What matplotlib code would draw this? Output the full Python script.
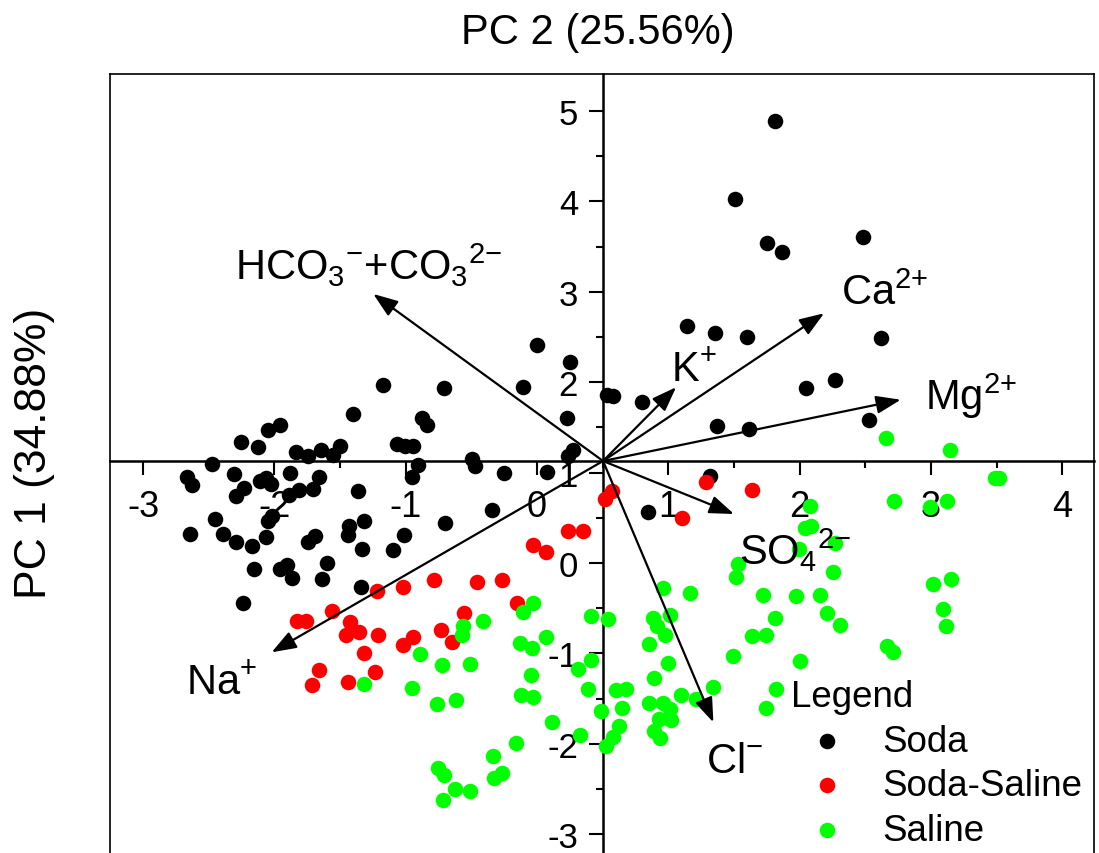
import matplotlib
matplotlib.use("Agg")
import matplotlib.pyplot as plt
import numpy as np

plt.rcParams['font.family'] = ['Liberation Sans', 'DejaVu Sans']
plt.rcParams['mathtext.fontset'] = 'custom'
plt.rcParams['mathtext.rm'] = 'Liberation Sans'
plt.rcParams['mathtext.it'] = 'Liberation Sans:italic'
plt.rcParams['mathtext.bf'] = 'Liberation Sans:bold'
plt.rcParams['axes.unicode_minus'] = False

# ---------------- data (scores) ----------------
soda_x = [1.813, 1.508, 1.749, 1.864, 2.485, 1.145, 1.356, 1.602, 2.620, 2.049,
          2.270, 0.533, 0.579, 0.802, 1.373, 1.617, 2.531, -0.002, 0.251, -0.706,
          -0.104, 0.226, -0.878, -0.835, -1.069, -1.005, -0.947, -0.497, -0.472, -0.904,
          -0.954, -0.251, 0.074, 0.238, 0.276, -0.345, -1.175, -1.399, -1.957, -2.046,
          -2.254, -2.123, -1.838, -1.742, -1.645, -1.554, -1.500, -2.478, -2.668, -2.630,
          -2.305, -1.881, -1.660, -2.110, -2.064, -2.026, -2.229, -2.292, -1.810, -1.889,
          -1.708, -1.366, -0.701, -2.452, -2.021, -2.046, -2.643, -2.394, -2.295, -2.168,
          -2.064, -1.742, -1.691, -1.432, -1.442, -1.318, -1.331, -1.099, -1.013, -2.153,
          -1.957, -1.906, -1.868, -1.597, -1.635, -1.340, -2.237, 1.318, 0.848]
soda_y = [4.893, 4.027, 3.540, 3.437, 3.603, 2.618, 2.544, 2.497, 2.486, 1.933,
          2.024, 1.858, 1.847, 1.778, 1.512, 1.482, 1.585, 2.412, 2.220, 1.933,
          1.950, 1.601, 1.604, 1.527, 1.316, 1.298, 1.291, 1.150, 1.076, 1.087,
          0.948, 0.996, 1.003, 1.187, 1.250, 0.586, 1.972, 1.648, 1.530, 1.475,
          1.335, 1.280, 1.225, 1.180, 1.253, 1.195, 1.291, 1.095, 0.948, 0.866,
          0.985, 0.996, 0.955, 0.910, 0.940, 0.874, 0.826, 0.744, 0.808, 0.756,
          0.819, 0.800, 0.442, 0.487, 0.523, 0.461, 0.321, 0.321, 0.236, 0.191,
          0.284, 0.236, 0.295, 0.413, 0.310, 0.461, 0.155, 0.147, 0.310, -0.066,
          -0.066, -0.019, -0.166, 0.000, -0.177, -0.269, -0.442, 0.966, 0.561]

sodasal_x = [0.518, 0.569, 0.234, 0.353, -0.028, 0.069, -1.221, -1.023, -0.782, -0.459,
             -0.264, -0.155, -1.564, -1.830, -1.759, -1.424, -1.455, -1.353, -1.209, -0.947,
             -1.023, -0.733, -0.650, -0.554, -1.318, -1.234, -1.658, -1.716, -1.442, 1.287,
             1.635, 1.102]
sodasal_y = [0.708, 0.800, 0.357, 0.351, 0.199, 0.125, -0.306, -0.269, -0.188, -0.207,
             -0.185, -0.446, -0.534, -0.638, -0.645, -0.649, -0.793, -0.760, -0.793, -0.815,
             -0.904, -0.738, -0.871, -0.556, -0.996, -1.202, -1.184, -1.350, -1.320, 0.899,
             0.808, 0.498]

saline_x = [-0.028, -0.104, -0.409, -0.566, -0.573, 0.411, 0.537, -0.132, -0.040, 0.069,
            -0.891, -0.720, -0.513, -1.318, -0.954, -0.043, 0.411, 0.312, 0.385, -0.122,
            -0.028, -0.759, -0.617, 1.165, 0.962, 1.516, 1.533, 0.112, 0.327, -0.160,
            -0.337, -0.269, -0.325, -0.752, -0.708, -0.625, -0.510, -0.714, 0.605, 0.678,
            0.650, 0.485, 0.622, 0.581, 0.526, 0.886, 0.916, 0.975, 1.013, 0.855,
            0.994, 0.891, 0.855, 0.962, 1.013, 1.018, 0.931, 0.891, 0.937, 1.097,
            1.213, 1.338, 1.495, 1.637, 2.079, 2.041, 2.085, 2.270, 1.998, 2.257,
            2.719, 2.993, 3.125, 3.488, 3.521, 3.014, 3.153, 3.094, 3.113, 1.719,
            1.973, 2.155, 2.206, 2.308, 1.813, 1.744, 2.663, 2.709, 2.003, 1.820,
            1.744, 2.658, 3.145]
saline_y = [-0.442, -0.545, -0.638, -0.700, -0.796, -0.583, -0.619, -0.883, -0.940, -0.815,
            -1.007, -1.128, -1.112, -1.338, -1.386, -1.237, -1.076, -1.173, -1.394, -1.455,
            -1.480, -1.560, -1.515, -0.332, -0.279, -0.155, -0.011, -1.762, -1.899, -1.991,
            -2.132, -2.323, -2.382, -2.268, -2.342, -2.500, -2.525, -2.618, -1.405, -1.394,
            -1.604, -1.634, -1.800, -1.928, -2.021, -0.614, -0.694, -0.796, -0.570, -0.896,
            -1.101, -1.272, -1.552, -1.549, -1.615, -1.733, -1.726, -1.855, -1.939, -1.455,
            -1.504, -1.375, -1.032, -0.813, 0.627, 0.384, 0.413, 0.221, 0.155, -0.096,
            0.689, 0.616, 0.689, 0.937, 0.937, -0.232, -0.177, -0.509, -0.694, -0.354,
            -0.368, -0.354, -0.553, -0.686, -0.608, -0.793, -0.915, -0.981, -1.087, -1.394,
            -1.607, 1.379, 1.250]

# ---------------- loadings (arrow tips) ----------------
origin = (0.503, 1.128)
var_names = ['HCO3', 'Na', 'K', 'Ca', 'Mg', 'SO4', 'Cl']
var_labels = [r'$\mathregular{HCO_3{}^{{-}}{+}CO_3{}^{2{-}}}$', r'$\mathregular{Na^{{+}}}$',
              r'$\mathregular{K^{{+}}}$', r'$\mathregular{Ca^{2{+}}}$', r'$\mathregular{Mg^{2{+}}}$',
              r'$\mathregular{SO_4{}^{2{-}}}$', r'$\mathregular{Cl^{{-}}}$']
tip_x = [-1.247, -2.021, 1.059, 2.186, 2.770, 1.500, 1.343]
tip_y = [2.976, -0.988, 1.944, 2.762, 1.806, 0.542, -1.762]
lab_x = [-2.300, -2.673, 1.018, 2.315, 2.955, 1.541, 1.287]
lab_y = [3.142, -1.449, 2.017, 2.865, 1.704, -0.011, -2.312]

x_ticks = [-3, -2, -1, 0, 1, 2, 3, 4]
y_ticks = [-3, -2, -1, 0, 1, 2, 3, 4, 5]

W, H = 1099, 854
fig = plt.figure(figsize=(W / 100, H / 100), dpi=100)
ax = fig.add_axes([110 / W, 0, (1094 - 110) / W, (854 - 75) / H])
ax.set_xlim(-3.252, 4.242)
ax.set_ylim(-3.208, 5.409)

ax.scatter(soda_x, soda_y, s=125, color='#000000', linewidths=0, zorder=3, label='Soda')
ax.scatter(sodasal_x, sodasal_y, s=125, color='#FF0000', linewidths=0, zorder=3, label='Soda-Saline')
ax.scatter(saline_x, saline_y, s=125, color='#00FF00', linewidths=0, zorder=3, label='Saline')

for tx, ty, lx, ly, lab in zip(tip_x, tip_y, lab_x, lab_y, var_labels):
    ax.annotate('', xy=(tx, ty), xytext=origin,
                arrowprops=dict(arrowstyle='-|>,head_length=0.6,head_width=0.22',
                                color='black', lw=1.6, mutation_scale=25,
                                shrinkA=0, shrinkB=0), zorder=4)
    ax.text(lx, ly, lab, fontsize=30, ha='left', va='baseline', zorder=5)

# centred axes
ax.spines['bottom'].set_position(('data', origin[1]))
ax.spines['left'].set_position(('data', origin[0]))
for sp in ['bottom', 'left']:
    ax.spines[sp].set_linewidth(1.8)
for sp in ['top', 'right']:
    ax.spines[sp].set_linewidth(1.2)
ax.plot([0, 0], [0, 1], transform=ax.transAxes, color='black', lw=1.2, clip_on=False)

ax.set_xticks(x_ticks)
ax.set_yticks(y_ticks)
ax.set_xticks(np.arange(-3, 4.01, 0.5), minor=True)
ax.set_yticks(np.arange(-3, 5.01, 0.5), minor=True)
ax.tick_params(axis='both', which='major', direction='out', length=10, width=1.5,
               top=False, right=False)
ax.tick_params(axis='both', which='minor', direction='out', length=5, width=1.5,
               top=False, right=False)
ax.tick_params(axis='x', which='major', pad=10, labelsize=26)
ax.tick_params(axis='y', which='major', pad=8, labelsize=25)

leg = ax.legend(loc='upper left', bbox_to_anchor=(0.673, 0.247), frameon=False,
                fontsize=26.5, title='Legend', title_fontsize=26.5, alignment='left',
                handlelength=2.0, handletextpad=0.5, labelspacing=0.26, borderpad=0,
                markerscale=1.0)

fig.text(598 / W, 1 - 33 / H, 'PC 2 (25.56%)', fontsize=30, ha='center', va='center')
fig.text(35 / W, 1 - 453 / H, 'PC 1 (34.88%)', fontsize=32, ha='center', va='center',
         rotation=90)

fig.savefig('out.png', dpi=100)
